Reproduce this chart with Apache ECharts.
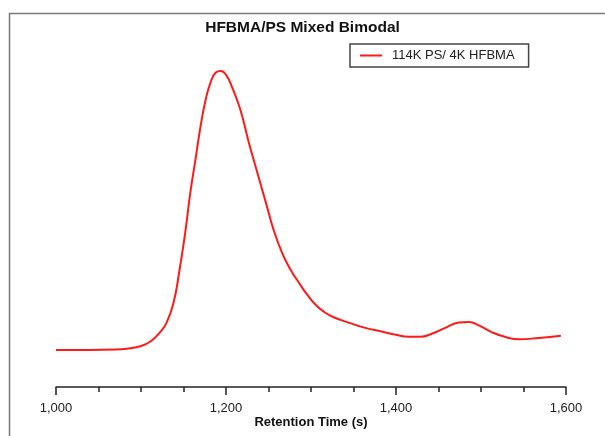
<!DOCTYPE html>
<html>
<head>
<meta charset="utf-8">
<script src="https://cdn.jsdelivr.net/npm/echarts@6/dist/echarts.min.js"></script>
<style>
  html, body { margin: 0; padding: 0; background: #fff; }
  #chart { width: 605px; height: 436px; }
</style>
</head>
<body>
<div id="chart"></div>
<script>
// retention time (s) and normalized detector signal
const retentionTime = [1000, 1040, 1070, 1085, 1100, 1112, 1122, 1130, 1138, 1145, 1152, 1158, 1164, 1170, 1176,
  1182, 1188, 1194, 1200, 1207, 1217, 1227, 1237, 1247, 1256, 1266, 1276, 1286, 1296, 1306, 1316, 1326, 1345,
  1364, 1383, 1400, 1415, 1429, 1442, 1458, 1474, 1486, 1498, 1513, 1529, 1545, 1568, 1594];
const signal = [0, 0, 0.001, 0.005, 0.014, 0.032, 0.062, 0.097, 0.165, 0.28, 0.42, 0.563, 0.681, 0.800, 0.896,
  0.960, 0.994, 1.0, 0.986, 0.943, 0.860, 0.742, 0.634, 0.527, 0.430, 0.348, 0.287, 0.240, 0.196, 0.160, 0.135, 0.118, 0.097,
  0.079, 0.066, 0.054, 0.047, 0.047, 0.058, 0.079, 0.098, 0.100, 0.087, 0.063, 0.046, 0.038, 0.043, 0.051];
const xTicks = [1000, 1200, 1400, 1600];
const seriesName = '114K PS/ 4K HFBMA';

const font = '"Liberation Sans", Arial, Helvetica, sans-serif';
const chart = echarts.init(document.getElementById('chart'));

chart.setOption({
  backgroundColor: '#fff',
  animation: false,
  textStyle: { fontFamily: font },
  title: {
    text: 'HFBMA/PS Mixed Bimodal',
    left: 'center',
    top: 15,
    textStyle: { fontSize: 15.5, fontWeight: 'bold', color: '#111', fontFamily: font }
  },
  legend: {
    left: 350,
    top: 44,
    orient: 'vertical',
    padding: [5, 14, 5, 10],
    borderColor: '#444',
    borderWidth: 1.5,
    icon: 'rect',
    itemWidth: 22,
    itemHeight: 2,
    textStyle: { fontSize: 13, color: '#222', padding: [0, 0, 0, 5], fontFamily: font },
    data: [seriesName]
  },
  graphic: [{
    type: 'rect',
    shape: { x: 9.5, y: 13.5, width: 800, height: 600 },
    style: { fill: 'none', stroke: '#7a7a7a', lineWidth: 1.5 },
    silent: true
  }],
  grid: { left: 56, right: 39, top: 14, bottom: 49, outerBoundsMode: 'none' },
  xAxis: {
    type: 'value',
    min: xTicks[0],
    max: xTicks[xTicks.length - 1],
    interval: 200,
    name: 'Retention Time (s)',
    nameLocation: 'middle',
    nameGap: 29,
    nameMoveOverlap: false,
    nameTextStyle: { fontSize: 13, fontWeight: 'bold', color: '#111', fontFamily: font },
    axisLine: { onZero: false, lineStyle: { color: '#222', width: 1.5 } },
    axisTick: { show: true, inside: false, length: 8, lineStyle: { color: '#222', width: 1.5 } },
    minorTick: { show: true, splitNumber: 4, length: 5, lineStyle: { color: '#222', width: 1.5 } },
    splitLine: { show: false },
    axisLabel: {
      margin: 15,
      fontSize: 13,
      color: '#222',
      fontFamily: font,
      formatter: v => v.toLocaleString('en-US')
    }
  },
  yAxis: {
    type: 'value',
    min: -0.133,
    max: 1.204,
    show: false,
    splitLine: { show: false }
  },
  series: [{
    name: seriesName,
    type: 'line',
    smooth: 0.5,
    symbol: 'none',
    lineStyle: { color: '#ff1a1a', width: 2 },
    itemStyle: { color: '#ff1a1a' },
    data: retentionTime.map((t, i) => [t, signal[i]])
  }]
});
</script>
</body>
</html>
